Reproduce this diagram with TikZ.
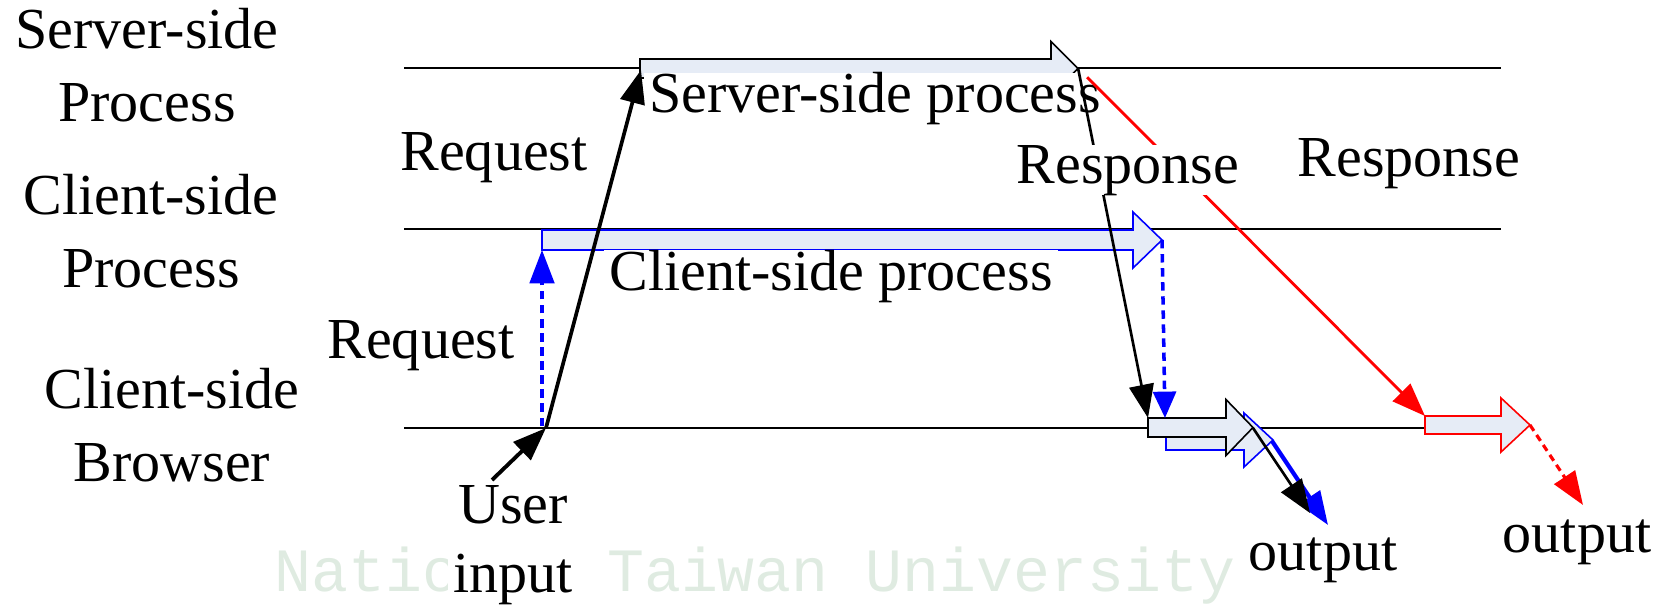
\documentclass[tikz,border=0pt]{standalone}
\usepackage{fontspec}
\setmainfont{Liberation Serif}
\setmonofont{Liberation Mono}
\usetikzlibrary{arrows.meta}

\definecolor{boxfill}{HTML}{E6ECF6}
\definecolor{wmark}{HTML}{DFEBE1}

% block arrow: style, tail x, head x, tip x, centre y, half shaft, half head
\newcommand{\blockarrow}[7]{%
  \draw[#1] (#2,#5-#6) -- (#3,#5-#6) -- (#3,#5-#7) -- (#4,#5)
    -- (#3,#5+#7) -- (#3,#5+#6) -- (#2,#5+#6) -- cycle;}

\begin{document}
\begin{tikzpicture}[x=0.01cm, y=-0.01cm,
    lbl/.style={font=\fontsize{16.5}{20.8}\selectfont, inner sep=0pt, align=center},
    onwhite/.style={lbl, fill=white, inner xsep=1.5pt},
    level/.style={line width=0.45pt},
    procbox/.style={fill=boxfill, line width=0.45pt},
    arrowhd/.style={-{Triangle[length=9.5pt,width=7pt]}},
    smallhd/.style={-{Triangle[length=7.5pt,width=6.5pt]}}]
  \useasboundingbox (0,0) rectangle (1669,606);

  % faint mark along the bottom
  \node[font=\fontsize{17.5}{20}\ttfamily, text=wmark, inner sep=0pt, anchor=base]
    (ntu) at (755,591) {National Taiwan University};

  % the three levels
  \draw[level] (404,68) -- (1501,68);
  \draw[level] (404,229) -- (1501,229);
  \draw[level] (404,428) -- (1501,428);

  % Process blocks
  \blockarrow{procbox, draw=black}{640}{1051}{1078}{68.5}{9.5}{27}
  \blockarrow{procbox, draw=blue}{542}{1133}{1162}{240}{10}{28}
  \blockarrow{procbox, draw=blue}{1166}{1244}{1273}{440}{10}{27}
  \blockarrow{procbox, draw=black}{1148}{1226}{1253}{427.5}{9.5}{28}
  \blockarrow{procbox, draw=red}{1425}{1501}{1530}{425}{9}{27}

  \node[onwhite, anchor=base] (srvproc) at (875,113) {Server-side process};
  \node[onwhite, anchor=base] (cliproc) at (831,290) {Client-side process};

  % ends of the blocks
  \coordinate (uin) at (546,428);
  \coordinate (utail) at (492,480);
  \coordinate (srvtail) at (641,70);
  \coordinate (srvtip) at (1078,68);
  \coordinate (bluefoot) at (542,426);
  \coordinate (clitail) at (542,250);
  \coordinate (clitip) at (1162,240);
  \coordinate (brwblk) at (1148,418);
  \coordinate (brwdrop) at (1165,418);
  \coordinate (brwtip) at (1253,428);
  \coordinate (brwtip2) at (1272,441);
  \coordinate (redtail) at (1425,416);
  \coordinate (redtip) at (1530,425);
  \coordinate (outblk) at (1310,513);
  \coordinate (outblue) at (1328,525);
  \coordinate (outred) at (1583,505);

  % user input and requests
  \draw[arrowhd, line width=1.1pt] (utail) -- (uin);
  \draw[arrowhd, line width=1.05pt] (uin) -- (srvtail);
  \draw[arrowhd, blue, line width=0.9pt, dash pattern=on 2.4pt off 1.6pt] (bluefoot) -- (clitail);

  % responses
  \draw[arrowhd, line width=0.75pt] (srvtip) -- (brwblk);
  \draw[smallhd, blue, line width=1pt, dash pattern=on 2.4pt off 1.6pt] (clitip) -- (brwdrop);
  \draw[arrowhd, red, line width=0.8pt, shorten <=3.7pt] (srvtip) -- (redtail);

  % to the output
  \draw[arrowhd, blue, line width=1.2pt] (brwtip2) -- (outblue);
  \draw[arrowhd, line width=0.75pt] (brwtip) -- (outblk);
  \draw[arrowhd, red, line width=0.9pt, dash pattern=on 2pt off 1.4pt] (redtip) -- (outred);

  % labels
  \node[lbl] (srvlbl) at (147,65) {Server-side\\Process};
  \node[lbl] (clilbl) at (151,231) {Client-side\\Process};
  \node[lbl] (brwlbl) at (172,425) {Client-side\\Browser};

  \node[lbl, anchor=base] (req1) at (494,170) {Request};
  \node[lbl, anchor=base] (req2) at (421,358) {Request};
  \node[onwhite, anchor=base] (resp1) at (1128,183) {Response};
  \node[onwhite, anchor=base] (resp2) at (1409,176) {Response};

  \node[onwhite, font=\fontsize{16.5}{19.8}\selectfont] (user) at (513,545) {User\\input};
  \node[onwhite, anchor=base] (out1) at (1323,570) {output};
  \node[lbl, anchor=base] (out2) at (1577,552) {output};
\end{tikzpicture}
\end{document}
